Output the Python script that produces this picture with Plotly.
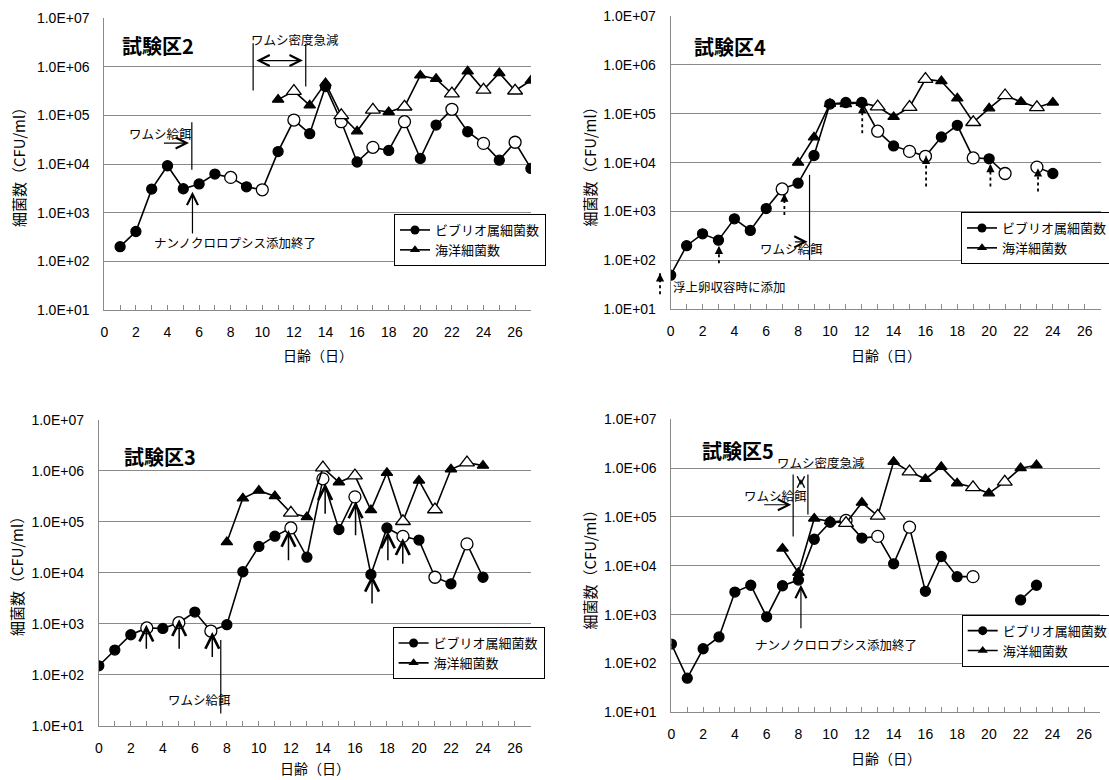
import plotly.graph_objects as go

# ---------------- data ----------------
# 試験区2
days_v2 = list(range(1, 28))
vib_2 = [2.0e2, 4.1e2, 3.05e3, 9.2e3, 3.1e3, 3.9e3, 6.2e3, 5.3e3, 3.4e3, 2.95e3,
         1.8e4, 8.0e4, 4.2e4, 3.9e5, 7.4e4, 1.1e4, 2.2e4, 1.9e4, 7.4e4, 1.3e4,
         6.3e4, 1.33e5, 4.6e4, 2.65e4, 1.2e4, 2.8e4, 8.1e3]
vib_2_open = [8, 10, 12, 15, 17, 19, 22, 24, 26]
days_m2 = list(range(11, 28))
mar_2 = [2.1e5, 3.15e5, 1.6e5, 4.6e5, 1.0e5, 4.7e4, 1.3e5, 1.17e5, 1.5e5, 6.6e5,
         5.6e5, 2.8e5, 8.0e5, 3.35e5, 7.4e5, 3.2e5, 5.2e5]
mar_2_open = [12, 15, 17, 19, 22, 24, 26]

# 試験区4
days_v4 = list(range(0, 25))
vib_4 = [50, 2.0e2, 3.5e2, 2.6e2, 7.1e2, 4.1e2, 1.15e3, 2.9e3, 3.8e3, 1.4e4,
         1.58e5, 1.7e5, 1.7e5, 4.4e4, 2.2e4, 1.7e4, 1.35e4, 3.35e4, 5.8e4, 1.25e4,
         1.2e4, 6.0e3, None, 8.1e3, 6.0e3]
vib_4_open = [7, 13, 15, 16, 19, 21, 23]
days_m4 = list(range(8, 25))
mar_4 = [1.0e4, 3.3e4, 1.6e5, 1.58e5, 1.68e5, 1.4e5, 8.6e4, 1.37e5, 5.1e5, 4.65e5,
         2.06e5, 6.7e4, 1.29e5, 2.37e5, 1.76e5, 1.35e5, 1.7e5]
mar_4_open = [13, 15, 16, 19, 21, 23]

# 試験区3
days_v3 = list(range(0, 25))
vib_3 = [1.5e2, 3.05e2, 6.1e2, 8.3e2, 8.1e2, 1.05e3, 1.7e3, 7.2e2, 9.6e2, 1.05e4,
         3.3e4, 5.25e4, 7.6e4, 2.03e4, 7.0e5, 7.1e4, 3.1e5, 9.3e3, 7.6e4, 5.2e4,
         4.4e4, 8.2e3, 6.1e3, 3.7e4, 8.2e3]
vib_3_open = [3, 5, 7, 12, 14, 16, 19, 21, 23]
days_m3 = list(range(8, 25))
mar_3 = [4.0e4, 2.9e5, 4.1e5, 3.2e5, 1.5e5, 1.24e5, 1.16e6, 6.0e5, 8.1e5, 1.7e5,
         9.2e5, 1.03e5, 6.5e5, 1.75e5, 1.08e6, 1.46e6, 1.27e6]
mar_3_open = [12, 14, 16, 19, 21, 23]

# 試験区5
days_v5 = list(range(0, 24))
vib_5 = [2.5e2, 50, 2.0e2, 3.5e2, 2.9e3, 4.0e3, 9.0e2, 3.9e3, 5.1e3, 3.5e4,
         7.8e4, 8.5e4, 3.7e4, 4.0e4, 1.1e4, 6.2e4, 3.0e3, 1.55e4, 6.0e3, 6.0e3,
         None, None, 2.0e3, 4.0e3]
vib_5_open = [11, 13, 15, 19]
days_m5 = list(range(7, 24))
mar_5 = [2.26e4, 7.2e3, 9.3e4, 8.1e4, 7.5e4, 1.96e5, 1.05e5, 1.35e6, 8.5e5, 6.0e5,
         1.06e6, 4.9e5, 4.05e5, 3.05e5, 5.25e5, 1.0e6, 1.15e6]
mar_5_open = [11, 13, 15, 19, 21]

panel_titles = ["試験区2", "試験区4", "試験区3", "試験区5"]
series_names = ["ビブリオ属細菌数", "海洋細菌数"]
y_tick_vals = [1e1, 1e2, 1e3, 1e4, 1e5, 1e6, 1e7]
y_tick_text = ["1.0E+01", "1.0E+02", "1.0E+03", "1.0E+04", "1.0E+05", "1.0E+06", "1.0E+07"]
x_tick_vals = list(range(0, 28))
x_tick_text = [str(v) if (v % 2 == 0 and v <= 26) else "" for v in x_tick_vals]
x_title = "日齢（日）"
y_title = "細菌数（CFU/ml）"

# ---------------- layout geometry ----------------
W, H = 1109, 780
JP = "Noto Sans CJK JP"
NUM = "Liberation Sans"
GRID = "#8a8a8a"
PAN = {
    1: dict(L=104.3, R=530.9, T=18.0, B=310.0),
    2: dict(L=670.7, R=1100.6, T=16.0, B=309.3),
    3: dict(L=98.8, R=531.0, T=420.0, B=725.7),
    4: dict(L=671.4, R=1100.0, T=419.3, B=712.3),
}


def to_px(p, d, lg):
    g = PAN[p]
    return g["L"] + d / 27.0 * (g["R"] - g["L"]), g["B"] - (lg - 1) / 6.0 * (g["B"] - g["T"])


def pap(x, y):
    return x / W, 1 - y / H


fig = go.Figure()


def add_series(p, days, vals, open_days, sym, fsize, osize):
    colors = ["white" if d in open_days else "black" for d in days]
    sizes = [osize if d in open_days else fsize for d in days]
    sfx = "" if p == 1 else str(p)
    fig.add_trace(go.Scatter(
        x=days, y=vals, mode="lines+markers",
        line=dict(color="black", width=1.6),
        marker=dict(symbol=sym, color=colors, size=sizes, opacity=1,
                    line=dict(color="black", width=1.3)),
        xaxis="x" + sfx, yaxis="y" + sfx, showlegend=False, hoverinfo="skip"))


panel_data = {
    1: (days_v2, vib_2, vib_2_open, days_m2, mar_2, mar_2_open),
    2: (days_v4, vib_4, vib_4_open, days_m4, mar_4, mar_4_open),
    3: (days_v3, vib_3, vib_3_open, days_m3, mar_3, mar_3_open),
    4: (days_v5, vib_5, vib_5_open, days_m5, mar_5, mar_5_open),
}

legend_pos = {1: (394, 214), 2: (961, 212), 3: (392.6, 627), 4: (961.7, 614.7)}

for p in range(1, 5):
    dv, vv, vo, dm, mv, mo = panel_data[p]
    add_series(p, dv, vv, vo, "circle", 10, 12)
    add_series(p, dm, mv, mo, "triangle-up", 10, 13)
    sfx = "" if p == 1 else str(p)
    lg = "legend" if p == 1 else "legend" + str(p)
    for nm, sym in zip(series_names, ["circle", "triangle-up"]):
        fig.add_trace(go.Scatter(
            x=[None], y=[None], mode="lines+markers", name=nm,
            line=dict(color="black", width=1.6),
            marker=dict(symbol=sym, color="black", size=9, opacity=1),
            xaxis="x" + sfx, yaxis="y" + sfx, legend=lg, showlegend=True))

layout = dict(
    width=W, height=H, margin=dict(l=0, r=0, t=0, b=0, autoexpand=False),
    plot_bgcolor="white", paper_bgcolor="white", showlegend=True,
    font=dict(family=JP, color="black"),
)

for p in range(1, 5):
    g = PAN[p]
    sfx = "" if p == 1 else str(p)
    layout["xaxis" + sfx] = dict(
        domain=[g["L"] / W, g["R"] / W], range=[0, 27], anchor="y" + sfx,
        tickmode="array", tickvals=x_tick_vals, ticktext=x_tick_text,
        ticks="inside", ticklen=5, tickcolor=GRID, tickwidth=1,
        showline=True, linecolor=GRID, linewidth=1, showgrid=False, zeroline=False,
        tickfont=dict(family=NUM, size=14, color="black"), ticklabelstandoff=9,
        fixedrange=True)
    layout["yaxis" + sfx] = dict(
        domain=[1 - g["B"] / H, 1 - g["T"] / H], type="log", range=[1, 7], anchor="x" + sfx,
        tickmode="array", tickvals=y_tick_vals, ticktext=y_tick_text, ticks="",
        showline=True, linecolor=GRID, linewidth=1, showgrid=True, gridcolor=GRID, gridwidth=1,
        zeroline=False, tickfont=dict(family=NUM, size=14, color="black"),
        ticklabelstandoff=11, fixedrange=True)
    lx, ly = legend_pos[p]
    lg = "legend" if p == 1 else "legend" + str(p)
    layout[lg] = dict(
        x=lx / W, y=1 - ly / H, xanchor="left", yanchor="top",
        bordercolor="black", borderwidth=1, bgcolor="white",
        font=dict(family=JP, size=13, color="black"), tracegroupgap=0,
        itemwidth=30)

fig.update_layout(**layout)

annotations = []
shapes = []


def text(p, d, lg, s, size=12.5, bold=False, anchor="left"):
    x, y = to_px(p, d, lg)
    px, py = pap(x, y)
    annotations.append(dict(
        x=px, y=py, xref="paper", yref="paper", text=("<b>%s</b>" % s) if bold else s,
        showarrow=False, xanchor=anchor, yanchor="middle",
        font=dict(family=JP, size=size, color="black")))


def line(p, d0, l0, d1, l1, dash="solid", width=1.2):
    x0, y0 = to_px(p, d0, l0)
    x1, y1 = to_px(p, d1, l1)
    a0, b0 = pap(x0, y0)
    a1, b1 = pap(x1, y1)
    shapes.append(dict(type="line", xref="paper", yref="paper", x0=a0, y0=b0, x1=a1, y1=b1,
                       line=dict(color="black", width=width, dash=dash)))


def arrow(p, d0, l0, d1, l1, head=5, size=1.8, width=1.2, both=False):
    x0, y0 = to_px(p, d0, l0)
    x1, y1 = to_px(p, d1, l1)
    a1, b1 = pap(x1, y1)
    annotations.append(dict(
        x=a1, y=b1, xref="paper", yref="paper", text="", showarrow=True,
        ax=x0 - x1, ay=y0 - y1, axref="pixel", ayref="pixel",
        arrowhead=head, startarrowhead=head, arrowsize=size, startarrowsize=size,
        arrowwidth=width, arrowcolor="black", standoff=0, startstandoff=0,
        arrowside="end+start" if both else "end"))


def dotted_arrow(p, d, l0, l1):
    line(p, d, l0, d, l1, dash="dot", width=1.8)
    x1, y1 = to_px(p, d, l1)
    a1, b1 = pap(x1, y1)
    annotations.append(dict(
        x=a1, y=b1, xref="paper", yref="paper", text="", showarrow=True,
        ax=0, ay=4, arrowhead=2, arrowsize=1.1, arrowwidth=1.5, arrowcolor="black",
        standoff=0))


# panel titles
text(1, 1.0, 6.43, panel_titles[0], size=20, bold=True)
text(2, 1.36, 6.37, panel_titles[1], size=20, bold=True)
text(3, 1.43, 6.28, panel_titles[2], size=20, bold=True)
text(4, 1.78, 6.37, panel_titles[3], size=20, bold=True)

# panel 1 (試験区2)
text(1, 9.15, 6.55, "ワムシ密度急減")
line(1, 9.42, 6.48, 9.42, 5.51)
line(1, 12.75, 6.47, 12.75, 5.59)
arrow(1, 9.53, 6.125, 12.57, 6.125, both=True)
text(1, 1.45, 4.635, "ワムシ給餌")
arrow(1, 3.68, 4.43, 5.36, 4.43)
line(1, 5.54, 4.86, 5.54, 3.88)
arrow(1, 5.58, 2.54, 5.58, 3.43)
text(1, 3.01, 2.38, "ナンノクロロプシス添加終了")

# panel 2 (試験区4)
text(2, 0.0, 1.46, "浮上卵収容時に添加")
text(2, 5.5, 2.25, "ワムシ給餌")
line(2, 8.72, 3.75, 8.72, 2.01)
arrow(2, 7.7, 2.38, 8.6, 2.38)
for d, l0, l1 in [(-0.67, 1.31, 1.74), (3.03, 1.94, 2.30), (7.14, 2.93, 3.37),
                  (12.03, 4.60, 5.18), (16.04, 3.51, 4.14), (20.08, 3.51, 3.97),
                  (23.07, 3.41, 3.885)]:
    dotted_arrow(2, d, l0, l1)

# panel 3 (試験区3)
text(3, 4.19, 1.52, "ワムシ給餌")
line(3, 7.62, 2.68, 7.62, 1.24)
for d, l0, l1 in [(2.97, 2.48, 2.98), (5.02, 2.48, 3.09), (7.09, 2.32, 2.84),
                  (11.85, 4.22, 4.84), (14.14, 5.13, 5.76), (16.04, 4.71, 5.40),
                  (17.07, 3.37, 3.96), (18.06, 4.22, 4.81), (18.99, 4.15, 4.68)]:
    arrow(3, d, l0, d, l1, width=1.5)

# panel 4 (試験区5)
text(4, 6.55, 6.11, "ワムシ密度急減")
line(4, 7.67, 5.87, 7.67, 4.60)
line(4, 8.6, 5.87, 8.6, 5.05)
arrow(4, 8.16, 5.62, 8.16, 5.78, size=1.2, both=True)
text(4, 4.47, 5.44, "ワムシ給餌")
arrow(4, 5.75, 5.25, 7.55, 5.25)
arrow(4, 8.16, 2.69, 8.16, 3.61)
text(4, 5.11, 2.38, "ナンノクロロプシス添加終了")

# axis titles
for (xc, yc) in [(18, 164), (588.5, 163), (16, 573), (588.5, 566)]:
    a, b = pap(xc, yc)
    annotations.append(dict(x=a, y=b, xref="paper", yref="paper", text=y_title,
                            showarrow=False, textangle=-90, xanchor="center", yanchor="middle",
                            font=dict(family=JP, size=15, color="black")))
for (xc, yc) in [(317.5, 355), (885.6, 355), (315, 768), (885.7, 758)]:
    a, b = pap(xc, yc)
    annotations.append(dict(x=a, y=b, xref="paper", yref="paper", text=x_title,
                            showarrow=False, xanchor="center", yanchor="middle",
                            font=dict(family=JP, size=14, color="black")))

fig.update_layout(annotations=annotations, shapes=shapes)
fig.write_html("out.html")
